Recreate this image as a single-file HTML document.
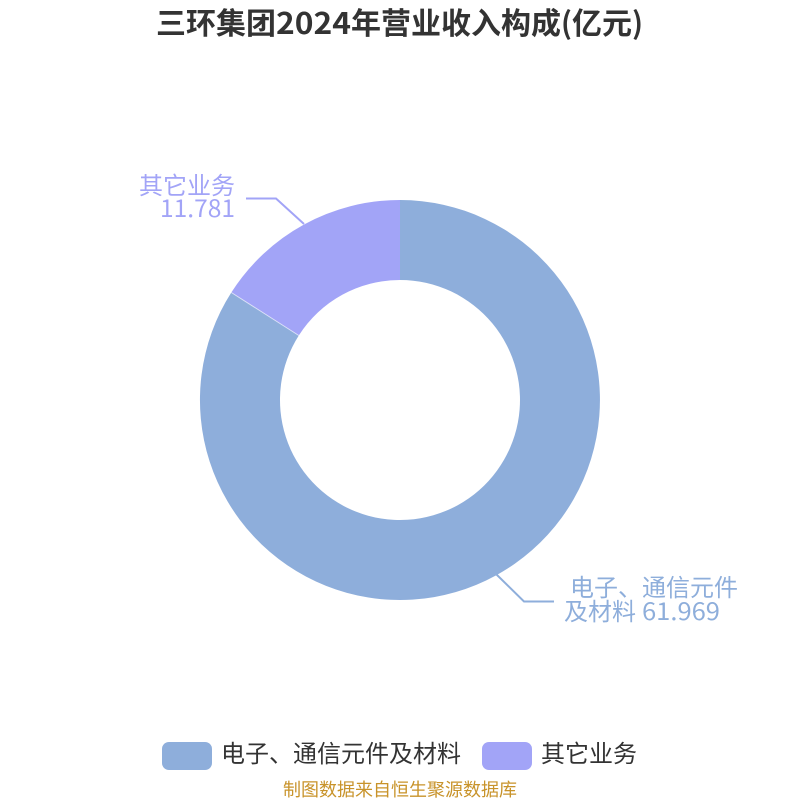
<!DOCTYPE html>
<html lang="zh"><head><meta charset="utf-8"><title>三环集团2024年营业收入构成(亿元)</title>
<style>html,body{margin:0;padding:0;background:#fff}svg{display:block}text{font-family:"Noto Sans CJK SC","WenQuanYi Zen Hei",sans-serif}</style>
</head><body>
<svg width="800" height="800" viewBox="0 0 800 800" xmlns="http://www.w3.org/2000/svg">
<rect width="800" height="800" fill="#fff"/>
<g font-size="30" font-weight="700" fill="#333">
<text x="156" y="34">三环集团</text>
<text x="276" y="34" textLength="75" lengthAdjust="spacingAndGlyphs">2024</text>
<text x="351" y="34">年营业收入构成</text>
<text x="561" y="34" textLength="11" lengthAdjust="spacingAndGlyphs">(</text>
<text x="572" y="34">亿元</text>
<text x="632" y="34" textLength="11" lengthAdjust="spacingAndGlyphs">)</text>
</g>
<path d="M400 200A200 200 0 1 1 231.3 292.5L298.8 335.5A120 120 0 1 0 400 280Z" fill="#8eaedb"/>
<path d="M231.3 292.5A200 200 0 0 1 400 200L400 280A120 120 0 0 0 298.8 335.5Z" fill="#a2a4f7"/>
<path d="M231.3 292.5L298.8 335.5" stroke="#fff" stroke-width="1" opacity=".6" fill="none"/>
<polyline points="304,224 276,198.5 246,198.5" fill="none" stroke="#a2a4f7" stroke-width="2"/>
<polyline points="496,574 524,601.5 554,601.5" fill="none" stroke="#8eaedb" stroke-width="2"/>
<text x="235" y="194" text-anchor="end" font-size="24" fill="#a2a4f7">其它业务</text>
<text x="160" y="217" font-size="24" fill="#a2a4f7" textLength="75" lengthAdjust="spacingAndGlyphs">11.781</text>
<text x="570" y="596" font-size="24" fill="#8eaedb">电子、通信元件</text>
<text x="564" y="620" font-size="24" fill="#8eaedb">及材料</text>
<text x="642" y="620" font-size="24" fill="#8eaedb" textLength="78" lengthAdjust="spacingAndGlyphs">61.969</text>
<rect x="162" y="742" width="50" height="28" rx="7" fill="#8eaedb"/>
<text x="221" y="762" font-size="24" fill="#333">电子、通信元件及材料</text>
<rect x="482" y="742" width="50" height="28" rx="7" fill="#a2a4f7"/>
<text x="541" y="762" font-size="24" fill="#333">其它业务</text>
<text x="400" y="796" text-anchor="middle" font-size="18" fill="#c8932a">制图数据来自恒生聚源数据库</text>
</svg>
</body></html>
